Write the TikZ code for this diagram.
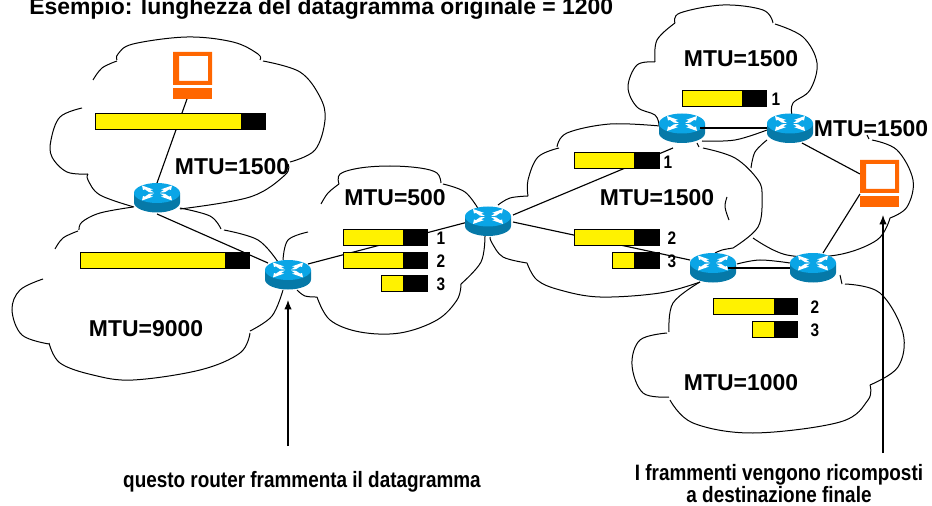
\documentclass[tikz,border=0pt]{standalone}
\usepackage{fontspec}
\setmainfont{Liberation Sans}
\newfontfamily\condb[FakeStretch=0.85]{Liberation Sans}
\usetikzlibrary{arrows.meta}
\definecolor{pcorange}{HTML}{FF6600}
\definecolor{routertop}{HTML}{0AA5E6}
\definecolor{routerside}{HTML}{0679A8}
\tikzset{
  x=0.75pt,y=-0.75pt,
  cloud/.style={draw=black,line width=0.75pt,smooth,tension=0.6},
  link/.style={draw=black,line width=0.85pt},
  thicklink/.style={draw=black,line width=1.6pt},
  pointer/.style={draw=black,line width=0.85pt,-{Latex[length=7pt,width=5.5pt]}},
  mtu/.style={font=\bfseries\fontsize{17.2}{20}\selectfont,inner sep=0pt},
  num/.style={font=\condb\bfseries\fontsize{13.6}{15}\selectfont,inner sep=0pt},
  cap1/.style={font=\condb\bfseries\fontsize{16.7}{16.5}\selectfont,inner sep=0pt,align=center},
  anchorbox/.style={inner sep=0pt,minimum width=0pt,minimum height=0pt},
}
% \barfrag{name}{x0}{xsplit}{x1}{y0}{y1}
\newcommand{\barfrag}[6]{%
  \fill[black] (#3,#5) rectangle (#4,#6);
  \filldraw[draw=black,line width=0.9pt,fill=yellow] (#2+0.7,#5+0.7) rectangle (#3,#6-0.7);
  \node[anchorbox] (#1) at (#3,#5) {};
}
% \routerdraw{name}{cx}{cy}
\newcommand{\routerdraw}[3]{%
  \begin{scope}[shift={(#2,#3)}]
    \fill[routerside] (-23,-5) -- (-23,4.5) arc[x radius=23,y radius=10,start angle=180,end angle=0] -- (23,-5) -- cycle;
    \fill[routertop] (0,-5) ellipse[x radius=23,y radius=10];
    \foreach \a/\b in {1/1,-1/1,1/-1,-1/-1}{
      \fill[white] (\a*3,\b*0.5-5) -- (\a*7,\b*3-5) -- (\a*4,\b*3.6-5) -- (\a*15,\b*7.5-5) -- (\a*14,\b*3-5) -- (\a*12,\b*3.6-5) -- (\a*8,\b*0.8-5) -- cycle;
    }
  \end{scope}
  \node[anchorbox] (#1) at (#2,#3) {};
}
% \pcdraw{name}{x0}{y0}
\newcommand{\pcdraw}[3]{%
  \begin{scope}[shift={(#2,#3)}]
    \fill[white] (0,0) rectangle (39,33);
    \fill[pcorange,even odd rule] (0,0) rectangle (39,33) (6,4) rectangle (35,29);
    \fill[pcorange] (0,36) rectangle (39,47);
  \end{scope}
  \node[anchorbox] (#1) at (#2+19.5,#3+23) {};
}
\begin{document}
\begin{tikzpicture}
\useasboundingbox (0,0) rectangle (932,506);

% clouds -------------------------------------------------------------
% top left
\draw[cloud] plot coordinates {(93,80) (102,68) (117,61)};
\draw[cloud] plot coordinates {(117,60) (118,54) (133,44) (187,37) (233,42) (258,54) (260,60)};
\draw[cloud] plot coordinates {(263,61) (300,72) (320,97) (325,120) (315,150) (290,162)};
\draw[cloud] plot coordinates {(288,164) (285,175) (250,197) (180,209)};
\draw[cloud] plot coordinates {(134,207) (100,195) (88,180) (88,174)};
\draw[cloud] plot coordinates {(88,174) (67,172) (52,157) (51,140) (60,117) (82,108)};
% bottom left
\draw[cloud] plot coordinates {(55,249) (63,238) (78,231)};
\draw[cloud] plot coordinates {(79,230) (82,222) (100,213) (133,207)};
\draw[cloud] plot coordinates {(180,208) (210,216) (221,229)};
\draw[cloud] plot coordinates {(224,230) (258,240) (278,262)};
\draw[cloud] plot coordinates {(283,290) (272,316) (250,331)};
\draw[cloud] plot coordinates {(250,333) (240,353) (200,370) (133,380) (93,375) (60,363) (49,343)};
\draw[cloud] plot coordinates {(49,344) (22,335) (12,310) (20,290) (43,279)};
% middle small
\draw[cloud] plot coordinates {(321,204) (328,193) (339,184)};
\draw[cloud] plot coordinates {(339,184) (340,174) (360,168) (390,166) (420,168) (437,173) (441,183)};
\draw[cloud] plot coordinates {(443,184) (465,192) (479,210)};
\draw[cloud] plot coordinates {(485,236) (481,262) (461,284)};
\draw[cloud] plot coordinates {(461,284) (457,300) (437,320) (400,333) (360,332) (330,320) (317,297)};
\draw[cloud] plot coordinates {(317,297) (305,296) (297,290)};
\draw[cloud] plot coordinates {(283,260) (288,240) (308,232)};
% middle large
\draw[cloud] plot coordinates {(498,205) (510,198) (528,196)};
\draw[cloud] plot coordinates {(528,196) (528,180) (538,157) (559,148)};
\draw[cloud] plot coordinates {(557,147) (567,133) (610,124) (660,126)};
\draw[cloud] plot coordinates {(697,143) (699,147)};
\draw[cloud] plot coordinates {(703,148) (735,158) (758,180) (762,197) (758,227) (733,248)};
\draw[cloud] plot coordinates {(733,248) (722,250) (715,253)};
\draw[cloud] plot coordinates {(727,197) (725,207) (729,220)};
\draw[cloud] plot coordinates {(700,282) (660,293) (600,297) (560,290) (537,280) (527,263)};
\draw[cloud] plot coordinates {(527,263) (503,257) (492,243) (490,237)};
% top right
\draw[cloud] plot coordinates {(655,62) (637,65) (628,87) (637,107) (655,115) (659,125)};
\draw[cloud] plot coordinates {(655,62) (657,40) (675,23)};
\draw[cloud] plot coordinates {(675,23) (680,13) (723,5) (763,10) (773,23)};
\draw[cloud] plot coordinates {(775,24) (803,37) (817,63) (810,90) (793,103) (792,115)};
% right
\draw[cloud] plot coordinates {(867,135) (869,139)};
\draw[cloud] plot coordinates {(872,140) (897,150) (913,180) (907,207) (890,218)};
\draw[cloud] plot coordinates {(890,218) (877,240) (837,255) (787,255) (753,238)};
\draw[cloud] plot coordinates {(751,168) (755,152) (767,140)};
% bottom right
\draw[cloud] plot coordinates {(840,275) (842,284)};
\draw[cloud] plot coordinates {(845,284) (880,293) (903,333) (898,367) (870,385)};
\draw[cloud] plot coordinates {(870,385) (868,400) (840,422) (753,433) (693,423) (670,400)};
\draw[cloud] plot coordinates {(669,397) (643,393) (632,365) (640,340) (667,333)};
\draw[cloud] plot coordinates {(669,332) (673,303) (700,282)};
\draw[cloud] plot coordinates {(737,264) (760,260) (790,263)};
\draw[cloud] plot coordinates {(702,141) (735,140) (767,130)};

% invisible end points of connectors ----------------------------------
\coordinate (pc1foot) at (187,99);
\coordinate (r1top) at (157,183);
\coordinate (r1foot) at (157,214);
\coordinate (r2left) at (268,263);
\coordinate (r2right) at (308,264);
\coordinate (r3left) at (468,222);
\coordinate (r3a) at (513,215);
\coordinate (r4foot) at (673,148);
\coordinate (r3b) at (513,222);
\coordinate (r6left) at (690,260);
\coordinate (r5foot) at (802,143);
\coordinate (pc2a) at (860,174);
\coordinate (pc2b) at (860,194);
\coordinate (r7top) at (823,253);
\coordinate (r4right) at (700,128);
\coordinate (r5left) at (767,128);
\coordinate (r6right) at (728,268);
\coordinate (r7left) at (790,268);
\coordinate (arrow1start) at (288,446);
\coordinate (arrow1end) at (288,300);
\coordinate (arrow2start) at (883,453);
\coordinate (arrow2end) at (883,215);

% connectors -----------------------------------------------------------
\draw[link] (pc1foot) -- (r1top);
\draw[link] (r1foot) -- (r2left);
\draw[link] (r2right) -- (r3left);
\draw[link] (r3a) -- (r4foot);
\draw[link] (r3b) -- (r6left);
\draw[link] (r5foot) -- (pc2a);
\draw[link] (pc2b) -- (r7top);

% fragments ---------------------------------------------------------------
\barfrag{b1}{95}{242}{266}{113}{130}
\barfrag{b2}{80}{226}{250}{252}{269}
\barfrag{b3}{343}{404}{428}{229}{246}
\barfrag{b4}{343}{404}{428}{252}{269}
\barfrag{b5}{381}{404}{428}{275}{292}
\barfrag{b6}{574}{635}{660}{152}{169}
\barfrag{b7}{574}{635}{660}{229}{246}
\barfrag{b8}{612}{635}{660}{252}{269}
\barfrag{b9}{682}{743}{767}{90}{107}
\barfrag{b10}{713}{775}{798}{298}{315}
\barfrag{b11}{752}{775}{798}{321}{338}

% routers and hosts ------------------------------------------------------
\routerdraw{r1}{157}{198}
\routerdraw{r2}{288}{275}
\routerdraw{r3}{488}{221.5}
\routerdraw{r4}{682}{128.5}
\routerdraw{r5}{790}{128.5}
\routerdraw{r6}{713}{268}
\routerdraw{r7}{813}{268}
\pcdraw{pc1}{173}{52}
\pcdraw{pc2}{860}{160}

\draw[thicklink] (r4right) -- (r5left);
\draw[thicklink] (r6right) -- (r7left);

\draw[pointer] (arrow1start) -- (arrow1end);
\draw[pointer] (arrow2start) -- (arrow2end);

% text --------------------------------------------------------------------
\node[font=\bfseries\fontsize{17.2}{20}\selectfont,inner sep=0pt,anchor=west] (title) at (29,9) {Esempio: lunghezza del datagramma originale = 1200};
\node[mtu] (m1) at (232,167) {MTU=1500};
\node[mtu] (m2) at (146,329) {MTU=9000};
\node[mtu] (m3) at (395,198) {MTU=500};
\node[mtu] (m4) at (657,198) {MTU=1500};
\node[mtu] (m5) at (741,59) {MTU=1500};
\node[mtu] (m6) at (871,129) {MTU=1500};
\node[mtu] (m7) at (741,383) {MTU=1000};
\node[num] (n1) at (441,238) {1};
\node[num] (n2) at (441,261) {2};
\node[num] (n3) at (441,284) {3};
\node[num] (n4) at (668,162) {1};
\node[num] (n5) at (672,238) {2};
\node[num] (n6) at (672,261) {3};
\node[num] (n7) at (776,99) {1};
\node[num] (n8) at (815,307) {2};
\node[num] (n9) at (815,330) {3};
\node[cap1] (c1) at (302,482) {questo router frammenta il datagramma};
\node[cap1] (c2) at (779,484) {I frammenti vengono ricomposti\\a destinazione finale};
\end{tikzpicture}
\end{document}
